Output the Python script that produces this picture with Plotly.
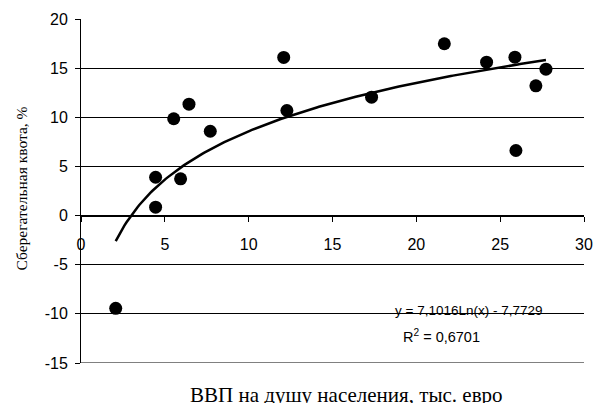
import numpy as np
import plotly.graph_objects as go

# Data
gdp = [2.07, 4.45, 4.45, 5.53, 5.94, 6.44, 7.71, 12.09, 12.28, 17.33, 21.67, 24.19, 25.88, 25.94, 27.13, 27.73]
saving = [-9.44, 0.85, 3.9, 9.85, 3.74, 11.33, 8.58, 16.09, 10.69, 12.05, 17.48, 15.61, 16.12, 6.62, 13.2, 14.9]

# Logarithmic trend line coefficients as stated on the chart
trend_a = 7.1016
trend_b = -7.7729
r2_text = "0,6701"

x_ticks = [0, 5, 10, 15, 20, 25, 30]
y_ticks = [-15, -10, -5, 0, 5, 10, 15, 20]
y_tick_labels = ["-15", "-10", "-5", "0", "5", "10", "15", "20"]

tx = np.linspace(min(gdp), max(gdp), 200)
ty = trend_a * np.log(tx) + trend_b

fig = go.Figure()
fig.add_trace(go.Scatter(x=tx, y=ty, mode="lines",
                         line=dict(color="black", width=2.5), hoverinfo="skip"))
fig.add_trace(go.Scatter(x=gdp, y=saving, mode="markers",
                         marker=dict(color="black", size=13)))

fig.update_layout(
    width=594, height=403,
    margin=dict(l=81, r=10, t=19, b=40, autoexpand=False),
    paper_bgcolor="white", plot_bgcolor="white",
    showlegend=False,
    font=dict(family="Liberation Sans, Arial", color="black"),
    xaxis=dict(range=[0, 30], tickvals=x_ticks, anchor="free", position=15/35,
               showgrid=False, zeroline=False, showline=True, linecolor="black", linewidth=1,
               ticks="outside", ticklen=5, tickcolor="black", automargin=False,
               tickfont=dict(size=16, family="Liberation Sans, Arial"),
               ticklabelstandoff=9),
    yaxis=dict(range=[-15, 20], tickvals=y_ticks, ticktext=y_tick_labels,
               showgrid=True, gridcolor="black", gridwidth=1, zeroline=False,
               showline=True, linecolor="black", linewidth=1,
               ticks="outside", ticklen=5, tickcolor="black", automargin=False,
               tickfont=dict(size=16, family="Liberation Sans, Arial"),
               ticklabelstandoff=4),
)

# bottom gridline (hidden by plotly at the range edge)
fig.add_shape(type="line", xref="x domain", yref="y", x0=0, x1=1,
              y0=y_ticks[0], y1=y_ticks[0], line=dict(color="black", width=1), layer="below")

fig.add_annotation(x=23.14, y=-9.67, xref="x", yref="y",
                   text=f"y = {str(trend_a).replace('.', ',')}Ln(x) - {str(-trend_b).replace('.', ',')}",
                   showarrow=False, font=dict(size=13.5, family="Liberation Sans, Arial"))
fig.add_annotation(x=21.5, y=-12.3, xref="x", yref="y",
                   text=f"R<sup>2</sup> = {r2_text}",
                   showarrow=False, font=dict(size=14.5, family="Liberation Sans, Arial"))

fig.add_annotation(x=346, y=381, xref="paper", yref="paper", yanchor="top",
                   text="ВВП на душу населения, тыс. евро", showarrow=False,
                   font=dict(size=21, family="Liberation Serif, Times New Roman"))
fig.add_annotation(x=10, y=189, xref="paper", yref="paper",
                   text="Сберегательная квота, %", showarrow=False, textangle=-90,
                   font=dict(size=15.5, family="Liberation Serif, Times New Roman"))

# convert pixel positions of the titles into paper coordinates
pw, ph = 594 - 81 - 10, 403 - 19 - 40
for ann in fig.layout.annotations[2:]:
    ann.x = (ann.x - 81) / pw
    ann.y = 1 - (ann.y - 19) / ph

fig.write_html("out.html", config={"displayModeBar": False},
               post_script="document.body.style.margin='0';document.body.style.overflow='hidden';")
